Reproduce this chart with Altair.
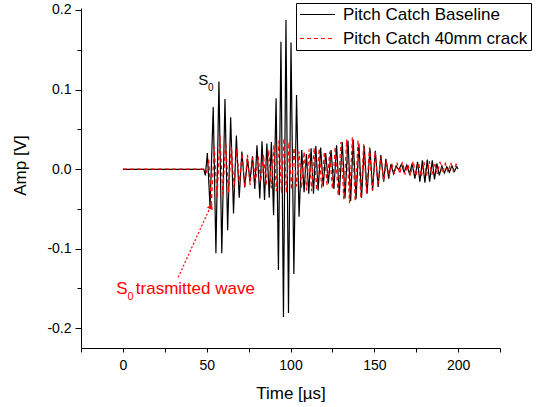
import altair as alt
import pandas as pd

# ---- data (extrema of the two waveforms) ----
base_time = [0, 48.3, 49.2, 50.4, 52.0, 53.9, 55.5, 57.3, 59.0, 60.9, 62.5, 64.3, 66.0, 67.7, 69.4,
             71.0, 72.7, 74.4, 75.8, 77.3, 78.7, 80.0, 81.7, 83.0, 84.5, 85.9, 87.3, 88.6, 89.9,
             91.4, 92.8, 94.3, 95.8, 97.3, 98.8, 100.3, 102.0, 103.6, 105.1, 106.7, 108.1, 109.5,
             110.9, 112.3, 113.7, 115.1, 116.5, 118.0, 119.5, 121.0, 122.6, 124.2, 125.9, 127.5,
             129.1, 130.9, 132.5, 134.3, 135.9, 137.4, 139.1, 140.8, 142.4, 144.0, 145.7, 147.4,
             149.0, 150.6, 152.3, 153.9, 155.6, 156.9, 158.6, 159.9, 161.5, 163.0, 164.6, 166.2,
             167.8, 169.4, 171.0, 172.6, 174.2, 175.8, 177.2, 178.7, 180.2, 181.6, 183.0, 184.6,
             185.9, 187.3, 188.8, 190.3, 191.8, 193.3, 194.8, 196.3, 197.8, 199.2, 200.0]
base_amp = [-0.0005, -0.0005, -0.008, 0.020, -0.048, 0.078, -0.106, 0.110, -0.106, 0.088, -0.077,
            0.065, -0.056, 0.042, -0.036, 0.022, -0.023, 0.013, -0.016, 0.016, -0.025, 0.030,
            -0.037, 0.035, -0.039, 0.032, -0.036, 0.034, -0.058, 0.089, -0.127, 0.160, -0.186,
            0.1875, -0.181, 0.159, -0.132, 0.093, -0.060, 0.024, -0.029, 0.019, -0.031, 0.026,
            -0.031, 0.029, -0.027, 0.027, -0.022, 0.020, -0.018, 0.024, -0.025, 0.030, -0.033,
            0.034, -0.037, 0.036, -0.040, 0.037, -0.038, 0.032, -0.036, 0.029, -0.031, 0.026,
            -0.027, 0.023, -0.0225, 0.0175, -0.016, 0.013, -0.012, 0.006, -0.006, 0.004, -0.001,
            0.006, -0.004, 0.005, -0.006, 0.007, -0.012, 0.009, -0.016, 0.011, -0.017, 0.012,
            -0.016, 0.011, -0.013, 0.007, -0.008, 0.004, -0.005, 0.003, -0.004, 0.004, -0.003,
            0.003, 0.000]

crack_time = [0, 48.5, 50.0, 51.2, 52.8, 54.5, 56.2, 57.9, 59.6, 61.3, 63.0, 64.7, 66.3, 67.9,
              69.5, 71.1, 72.7, 74.3, 75.9, 77.5, 79.1, 80.7, 82.3, 83.9, 85.5, 87.0, 88.6, 90.1,
              91.6, 93.1, 94.6, 96.1, 97.6, 99.1, 100.6, 102.1, 103.6, 105.1, 106.6, 108.1, 109.6,
              111.1, 112.6, 114.1, 115.6, 117.1, 118.6, 120.2, 121.8, 123.4, 125.0, 126.7, 128.4,
              130.1, 131.8, 133.5, 135.2, 136.9, 138.6, 140.3, 142.0, 143.7, 145.4, 147.1, 148.8,
              150.5, 152.2, 153.9, 155.6, 157.2, 158.8, 160.4, 162.0, 163.6, 165.2, 166.8, 168.4,
              170.0, 171.6, 173.2, 174.8, 176.4, 178.0, 179.6, 181.2, 182.8, 184.4, 186.0, 187.6,
              189.2, 190.8, 192.4, 194.0, 195.6, 197.2, 198.8, 200.0]
crack_amp = [0.0, 0.0, -0.004, 0.012, -0.043, 0.028, -0.036, 0.043, -0.032, 0.034, -0.030, 0.028,
             -0.024, 0.025, -0.020, 0.020, -0.022, 0.018, -0.020, 0.015, -0.018, 0.016, -0.016,
             0.018, -0.020, 0.024, -0.024, 0.030, -0.028, 0.036, -0.030, 0.039, -0.030, 0.034,
             -0.026, 0.027, -0.022, 0.022, -0.024, 0.022, -0.027, 0.025, -0.028, 0.027, -0.027,
             0.026, -0.024, 0.022, -0.020, 0.022, -0.025, 0.028, -0.033, 0.034, -0.038, 0.037,
             -0.043, 0.040, -0.041, 0.036, -0.037, 0.031, -0.031, 0.027, -0.027, 0.022, -0.021,
             0.016, -0.015, 0.011, -0.010, 0.007, -0.006, 0.008, -0.006, 0.009, -0.007, 0.006,
             -0.008, 0.010, -0.009, 0.008, -0.010, 0.009, -0.008, 0.010, -0.007, 0.008, -0.006,
             0.009, -0.005, 0.007, -0.004, 0.008, -0.003, 0.006, 0.003]

series_names = ["Pitch Catch Baseline", "Pitch Catch 40mm crack"]
series_colors = ["#000000", "#ff0000"]
x_ticks = [-25, 0, 25, 50, 75, 100, 125, 150, 175, 200, 225]
y_ticks = [-0.2, -0.15, -0.1, -0.05, 0.0, 0.05, 0.1, 0.15, 0.2]

# annotations (text, time, amplitude, size)
black_text = ["S", "0"]
black_time = [44.9, 50.8]
black_amp = [0.1056, 0.098]
black_size = [15, 10]

red_text = ["S", "0", "trasmitted wave"]
red_time = [-4.0, 2.7, 7.7]
red_amp = [-0.1567, -0.1643, -0.1567]
red_size = [17, 11, 17]

arrow_time = [33.0, 53.2]
arrow_amp = [-0.1362, -0.043]
arrow_head_time = [52.3]
arrow_head_amp = [-0.048]

FONT = "Liberation Sans"

df = pd.concat([
    pd.DataFrame({"time": base_time, "amp": base_amp, "series": series_names[0]}),
    pd.DataFrame({"time": crack_time, "amp": crack_amp, "series": series_names[1]}),
], ignore_index=True)

black_df = pd.DataFrame({"text": black_text, "time": black_time, "amp": black_amp, "size": black_size})
red_df = pd.DataFrame({"text": red_text, "time": red_time, "amp": red_amp, "size": red_size})
arrow_df = pd.DataFrame({"time": arrow_time, "amp": arrow_amp})
head_df = pd.DataFrame({"time": arrow_head_time, "amp": arrow_head_amp})

xscale = alt.Scale(domain=[-25, 225], nice=False, zero=False)
yscale = alt.Scale(domain=[-0.225, 0.2025], nice=False, zero=False)

xaxis = alt.Axis(values=x_ticks, title="Time [µs]", format="d",
                 labelExpr="datum.value % 50 === 0 ? datum.label : ''",
                 tickSize=4, labelPadding=6, labelFontSize=14, labelFlush=False,
                 titleFontSize=17, titleFontWeight="normal", titleY=50,
                 titleBaseline="alphabetic", grid=False)
yaxis = alt.Axis(values=y_ticks, title="Amp [V]",
                 labelExpr="abs(round(datum.value*100)) % 10 === 0 ? replace(format(datum.value, '.1f'), '\u2212', '-') : ''",
                 tickSize={"condition": {"test": "abs(round(datum.value*100)) % 10 === 0", "value": 6}, "value": 4},
                 labelPadding=4, labelFontSize=14, labelFlush=False,
                 titleFontSize=17, titleFontWeight="normal", titleX=-61, titleY=157,
                 titleBaseline="middle", titleAlign="center", grid=False)

legend = alt.Legend(orient="none", legendX=215, legendY=-5, title=None, strokeColor="black",
                    fillColor="white", padding=3, symbolType="stroke", symbolSize=1225,
                    clipHeight=17, symbolStrokeWidth=1.2, labelFontSize=17, labelFont=FONT,
                    labelColor="black", labelOffset=7, rowPadding=6, labelLimit=400)

color = alt.Color("series:N", scale=alt.Scale(domain=series_names, range=series_colors), legend=legend)
dash = alt.StrokeDash("series:N", scale=alt.Scale(domain=series_names, range=[[1, 0], [4, 3]]),
                      legend=legend)

lines_base = alt.Chart(df).transform_filter(alt.datum.series == series_names[0]).mark_line(
    strokeWidth=1.2).encode(
    x=alt.X("time:Q", scale=xscale, axis=xaxis),
    y=alt.Y("amp:Q", scale=yscale, axis=yaxis),
    color=color, strokeDash=dash)

lines_crack = alt.Chart(df).transform_filter(alt.datum.series == series_names[1]).mark_line(
    strokeWidth=1.2).encode(
    x=alt.X("time:Q", scale=xscale),
    y=alt.Y("amp:Q", scale=yscale),
    color=color, strokeDash=dash)

texts_black = alt.Chart(black_df).mark_text(align="left", baseline="alphabetic", font=FONT,
                                            color="#000000").encode(
    x=alt.X("time:Q", scale=xscale),
    y=alt.Y("amp:Q", scale=yscale),
    text="text:N",
    size=alt.Size("size:Q", scale=None, legend=None))

texts_red = alt.Chart(red_df).mark_text(align="left", baseline="alphabetic", font=FONT,
                                        color="#ff0000").encode(
    x=alt.X("time:Q", scale=xscale),
    y=alt.Y("amp:Q", scale=yscale),
    text="text:N",
    size=alt.Size("size:Q", scale=None, legend=None))

arrow = alt.Chart(arrow_df).mark_line(color="#ff0000", strokeDash=[2, 2], strokeWidth=1.2).encode(
    x=alt.X("time:Q", scale=xscale),
    y=alt.Y("amp:Q", scale=yscale))

head = alt.Chart(head_df).mark_point(shape="triangle", filled=True, size=40, angle=25,
                                     color="#ff0000", opacity=1).encode(
    x=alt.X("time:Q", scale=xscale),
    y=alt.Y("amp:Q", scale=yscale))

chart = alt.layer(lines_base, lines_crack, arrow, head, texts_black, texts_red).properties(
    width=419, height=340,
    padding={"left": 81, "top": 8, "right": 40, "bottom": 59},
    autosize=alt.AutoSizeParams(type="none"),
    background="white",
).configure_view(stroke=None).configure_axis(
    domainColor="black", tickColor="black", labelColor="black", titleColor="black",
    labelFont=FONT, titleFont=FONT, domainWidth=1, tickWidth=1)

chart.save("out.html", embed_options={"renderer": "svg", "actions": False})
